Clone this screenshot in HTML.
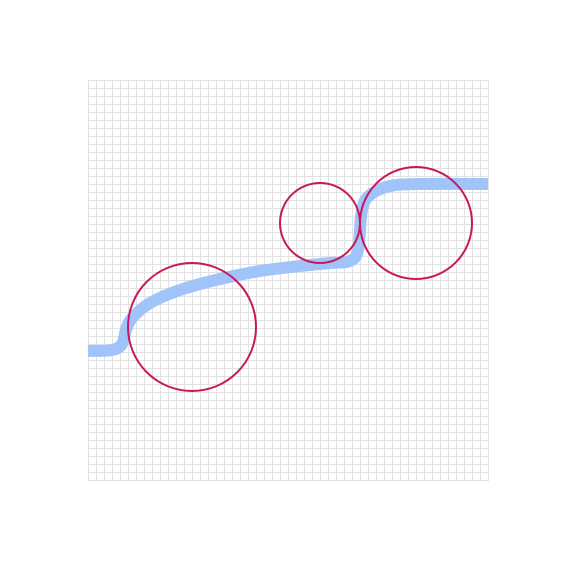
<!DOCTYPE html>
<html><head><meta charset="utf-8"><style>body{margin:0;background:#fff}svg{display:block}</style></head>
<body>
<svg id="chart" width="576" height="576" viewBox="0 0 576 576" xmlns="http://www.w3.org/2000/svg">
<defs>
<pattern id="gp" x="88" y="80" width="8" height="8" patternUnits="userSpaceOnUse">
<path d="M0.5,0 V8 M0,0.5 H8" stroke="#e2e2e2" stroke-width="1" fill="none"/>
</pattern>
</defs>
<rect x="88" y="80" width="401" height="401" fill="url(#gp)"/>
<path id="line" fill="none" stroke="#a0c4fa" stroke-width="12" stroke-linejoin="round" d=""/>
<g id="circles">
<circle cx="192" cy="327" r="64" fill="none" stroke="#c8185a" stroke-width="2"/>
<circle cx="320" cy="223" r="40" fill="none" stroke="#c8185a" stroke-width="2"/>
<circle cx="416" cy="223" r="56" fill="none" stroke="#c8185a" stroke-width="2"/>
</g>
</svg>
<script>
const lineX=[0,6,8.5,9.5,11,15.5,23,33,43,53,60.5,65.5,67.5,68.5,70.5,75.5,83,100];
const lineY=[32.25,32.5,34,37.5,40.5,44.25,47.5,50.25,52.25,53.5,54.25,54.75,57.5,67.5,71.25,73.5,74,74];
const circleX=[26,58,82];
const circleY=[38.25,64.25,64.25];
const circleR=[16,10,14];
function sx(v){return 88+v*4;}
function sy(v){return 480-v*4;}
function sr(v){return v*4;}
(function(){
  const P=lineX.map(function(x,i){return [sx(x),sy(lineY[i])];});
  let d='M'+P[0][0]+','+P[0][1];
  for(let i=0;i<P.length-1;i++){
    const p0=P[Math.max(0,i-1)],p1=P[i],p2=P[i+1],p3=P[Math.min(P.length-1,i+2)];
    const c1=[p1[0]+(p2[0]-p0[0])/6,p1[1]+(p2[1]-p0[1])/6];
    const c2=[p2[0]-(p3[0]-p1[0])/6,p2[1]-(p3[1]-p1[1])/6];
    d+=' C'+c1[0]+','+c1[1]+' '+c2[0]+','+c2[1]+' '+p2[0]+','+p2[1];
  }
  document.getElementById('line').setAttribute('d',d);
  const cs=document.querySelectorAll('#circles circle');
  for(let i=0;i<cs.length&&i<circleX.length;i++){
    cs[i].setAttribute('cx',sx(circleX[i]));
    cs[i].setAttribute('cy',sy(circleY[i]));
    cs[i].setAttribute('r',sr(circleR[i]));
  }
})();
</script>
</body></html>
